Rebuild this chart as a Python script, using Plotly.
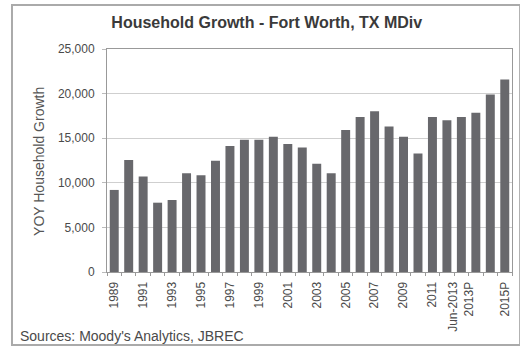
import plotly.graph_objects as go

# Data
categories = [str(y) for y in range(1989, 2013)] + ["Jun-2013", "2013P", "2014P", "2015P"]
households = [9200, 12570, 10700, 7770, 8070, 11080, 10850, 12470, 14120, 14830,
              14830, 15170, 14340, 13960, 12130, 11080, 15920, 17390, 18020, 16300,
              15170, 13290, 17390, 17000, 17390, 17840, 19900, 21590]
shown_labels = {str(y): str(y) for y in range(1989, 2012, 2)}
shown_labels["Jun-2013"] = "Jun-2013<br>2013P"
shown_labels["2015P"] = "2015P"
tick_text = [shown_labels.get(c, "") for c in categories]

font_name = "Liberation Sans, Arial, sans-serif"
text_grey = "#4a4a4a"

fig = go.Figure(go.Bar(x=categories, y=households, marker_color="#68686c",
                       marker_line_width=0))

fig.update_layout(
    width=520, height=351,
    margin=dict(l=107, r=8, t=49, b=79),
    paper_bgcolor="white", plot_bgcolor="white",
    bargap=0.38,
    showlegend=False,
    font=dict(family=font_name, color=text_grey, size=12),
    title=dict(text="<b>Household Growth - Fort Worth, TX MDiv</b>",
               x=0.513, xanchor="center", y=0.937, yanchor="middle",
               font=dict(size=16, color="#3a3a3a")),
)

fig.update_xaxes(type="category", tickmode="array", tickvals=categories,
                 ticktext=tick_text, tickangle=-90, tickson="boundaries",
                 ticks="outside", ticklen=3, tickcolor="#999",
                 ticklabelstandoff=4,
                 showline=True, linecolor="#999", mirror=True,
                 showgrid=False, tickfont=dict(size=12))

fig.update_yaxes(range=[0, 25000], dtick=5000, tickformat=",",
                 showgrid=True, gridcolor="#cfcfcf", gridwidth=1,
                 ticks="outside", ticklen=4, tickcolor="#bbb",
                 ticklabelstandoff=5,
                 showline=True, linecolor="#999", mirror=True,
                 zeroline=False, tickfont=dict(size=12))

# y axis title
fig.add_annotation(text="YOY Household Growth", textangle=-90,
                   xref="paper", yref="paper", x=-0.1926, y=0.498,
                   showarrow=False, font=dict(size=14, color="#555"))

# source line
fig.add_annotation(text="Sources: Moody's Analytics, JBREC",
                   xref="paper", yref="paper", x=-0.2198, y=-0.287,
                   xanchor="left", yanchor="middle",
                   showarrow=False, font=dict(size=14, color=text_grey))

# outer frame
fig.add_shape(type="rect", xref="paper", yref="paper",
              x0=-0.2346, x1=1.02, y0=-0.327, y1=1.197,
              line=dict(color="#aaa", width=2), layer="below")

fig.write_html("out.html", config={"displayModeBar": False},
               post_script="document.body.style.margin='0';")
